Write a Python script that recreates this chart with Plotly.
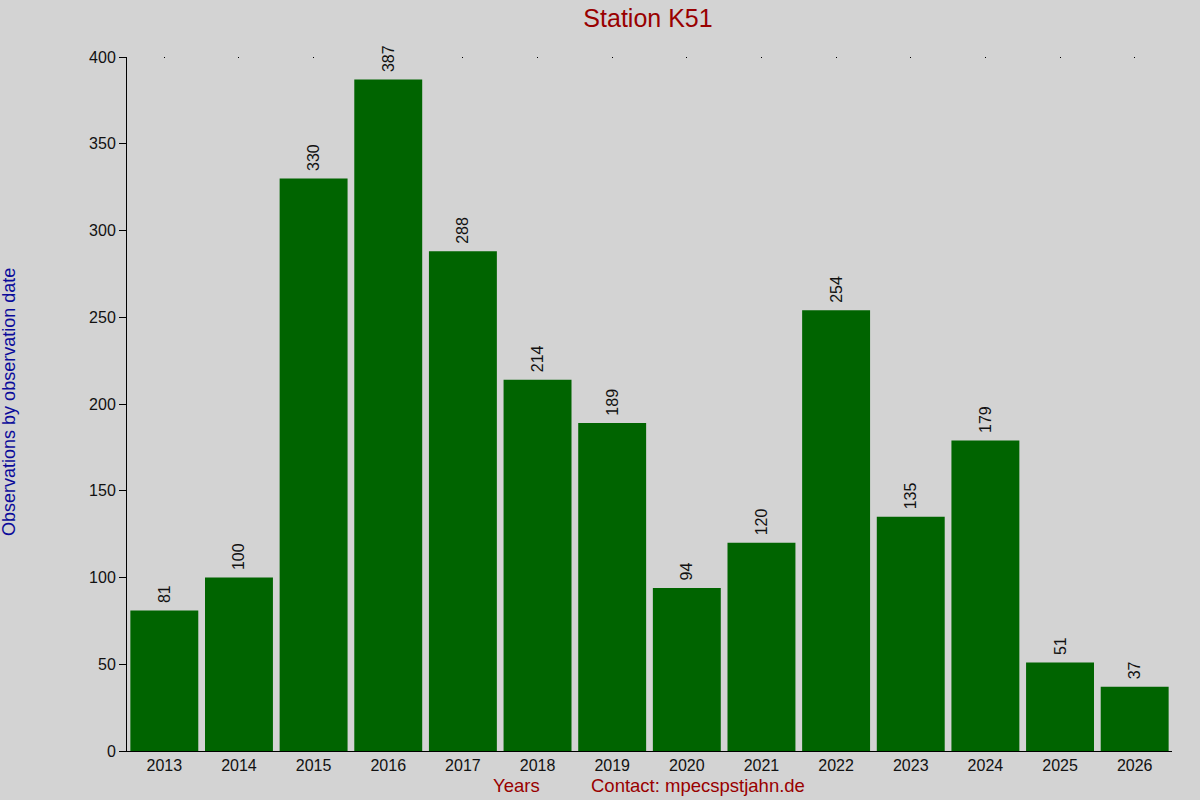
import plotly.graph_objects as go

# observations per year for station K51
years = ["2013", "2014", "2015", "2016", "2017", "2018", "2019",
         "2020", "2021", "2022", "2023", "2024", "2025", "2026"]
counts = [81, 100, 330, 387, 288, 214, 189, 94, 120, 254, 135, 179, 51, 37]
y_ticks = [0, 50, 100, 150, 200, 250, 300, 350, 400]

bg = "#d3d3d3"
dark_red = "#990000"
dark_blue = "#0b0b9a"

bars = go.Bar(
    x=years,
    y=counts,
    marker=dict(color="#006400", line=dict(width=0)),
    # leading space leaves a small gap between bar top and the rotated label
    text=[" " + str(c) for c in counts],
    textposition="outside",
    textangle=-90,
    textfont=dict(size=16, color="#111111"),
    cliponaxis=False,
    showlegend=False,
)

# invisible trace so the top axis (small dots at each year) gets drawn
top_marks = go.Scatter(x=years, y=counts, xaxis="x2", mode="none",
                       showlegend=False, hoverinfo="skip")

fig = go.Figure(data=[bars, top_marks])

fig.update_layout(
    width=1200,
    height=800,
    paper_bgcolor=bg,
    plot_bgcolor=bg,
    font=dict(family="Liberation Sans, Arial, sans-serif", size=16, color="#111111"),
    margin=dict(l=127, r=28, t=57, b=49),
    bargap=0.09,
    title=dict(text="Station K51", x=0.54, xanchor="center", y=0.977, yanchor="middle",
               font=dict(size=25, color=dark_red)),
    xaxis=dict(
        type="category",
        showline=True, linecolor="black", linewidth=1,
        ticks="", showgrid=False, zeroline=False,
        tickfont=dict(size=16, color="#111111"),
    ),
    xaxis2=dict(
        type="category", overlaying="x", matches="x", side="top",
        showline=False, showgrid=False, zeroline=False,
        showticklabels=False, ticks="inside", ticklen=1, tickwidth=1, tickcolor="black",
    ),
    yaxis=dict(
        range=[0, 400],
        tickvals=y_ticks,
        showline=True, linecolor="black", linewidth=1,
        ticks="outside", ticklen=7, tickcolor="black",
        showgrid=False, zeroline=False,
        tickfont=dict(size=16, color="#111111"),
    ),
    annotations=[
        dict(text="Observations by observation date", xref="paper", yref="paper",
             x=-0.1129, y=0.503, textangle=-90, showarrow=False,
             xanchor="center", yanchor="middle",
             font=dict(size=18, color=dark_blue)),
        dict(text="Years", xref="paper", yref="paper", x=0.3732, y=-0.0504,
             showarrow=False, xanchor="center", yanchor="middle",
             font=dict(size=18.5, color=dark_red)),
        dict(text="Contact: mpecspstjahn.de", xref="paper", yref="paper",
             x=0.5464, y=-0.0504, showarrow=False, xanchor="center", yanchor="middle",
             font=dict(size=18.5, color=dark_red)),
    ],
)

# drop the default page margin so the 1200x800 figure fills the window exactly
fig.write_html("out.html", config={"displayModeBar": False},
               post_script="document.body.style.margin='0';")
